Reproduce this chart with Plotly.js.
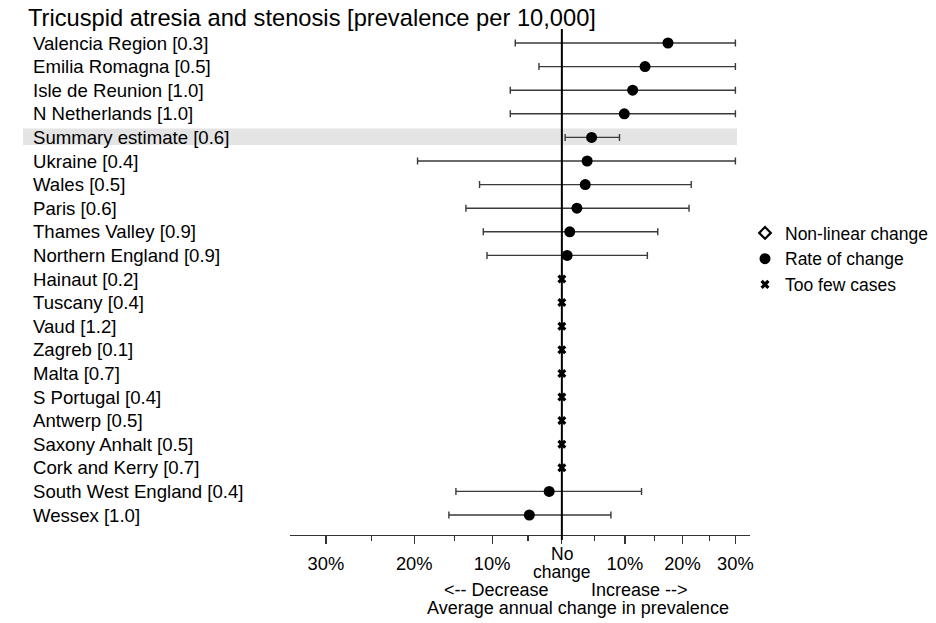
<!DOCTYPE html>
<html>
<head>
<meta charset="utf-8">
<script src="https://cdn.plot.ly/plotly-3.0.1.min.js"></script>
<style>
html,body{margin:0;padding:0;background:#fff;}
#chart{width:936px;height:623px;}
</style>
</head>
<body>
<div id="chart"></div>
<script>
// ---- data ----
const regions = ['Valencia Region','Emilia Romagna','Isle de Reunion','N Netherlands','Summary estimate','Ukraine','Wales','Paris','Thames Valley','Northern England','Hainaut','Tuscany','Vaud','Zagreb','Malta','S Portugal','Antwerp','Saxony Anhalt','Cork and Kerry','South West England','Wessex'];
const prevalence = ['0.3','0.5','1.0','1.0','0.6','0.4','0.5','0.6','0.9','0.9','0.2','0.4','1.2','0.1','0.7','0.4','0.5','0.5','0.7','0.4','1.0'];
const status = ['rate','rate','rate','rate','rate','rate','rate','rate','rate','rate','few','few','few','few','few','few','few','few','few','rate','rate'];
// average annual change, % (point estimate, lower and upper limit as drawn)
const change = [17.4,13.4,11.3,9.9,4.6,3.9,3.6,2.3,1.2,0.8,0,0,0,0,0,0,0,0,0,-1.9,-4.8];
const lower  = [-6.8,-3.4,-7.5,-7.5,0.5,-19.6,-11.7,-13.5,-11.2,-10.7,null,null,null,null,null,null,null,null,null,-14.8,-15.7];
const upper  = [30,30,30,30,9.1,30,21.6,21.2,15.6,13.8,null,null,null,null,null,null,null,null,null,12.8,7.7];
const tickPct = [-30,-20,-10,0,10,20,30];
const tickText = ['30%','20%','10%','','10%','20%','30%'];
const minorPct = [-25,-15,-5,5,15,25];

// ---- build ----
const FONT = 'Liberation Sans, Arial, sans-serif';
const ratio = p => 1 + p/100;
const labels = regions.map((r,i) => r + ' [' + prevalence[i] + ']');

const rateIdx = status.map((s,i)=>s==='rate'?i:-1).filter(i=>i>=0);
const fewIdx = status.map((s,i)=>s==='few'?i:-1).filter(i=>i>=0);

const traceNonLin = {
  type:'scatter', mode:'markers', name:'Non-linear change',
  x:[null], y:[null],
  marker:{symbol:'diamond-open', size:9, color:'#000', line:{width:2.2, color:'#000'}},
  hoverinfo:'skip'
};
const traceRate = {
  type:'scatter', mode:'markers', name:'Rate of change',
  x: rateIdx.map(i=>ratio(change[i])),
  y: rateIdx,
  marker:{symbol:'circle', size:11, color:'#000'},
  error_x:{type:'data', symmetric:false,
    array: rateIdx.map(i=>ratio(upper[i])-ratio(change[i])),
    arrayminus: rateIdx.map(i=>ratio(change[i])-ratio(lower[i])),
    color:'#3a3a3a', thickness:1.4, width:3.5}
};
const traceFew = {
  type:'scatter', mode:'markers', name:'Too few cases',
  x: fewIdx.map(i=>ratio(change[i])),
  y: fewIdx,
  marker:{symbol:'x', size:8, color:'#000', line:{width:0}}
};

const L=290, R=750, T=29, B=535;
const W=936, H=623;
const px2paperX = p => (p-L)/(R-L);
const px2paperY = p => (B-p)/(B-T);

const annotations = labels.map((t,i)=>({
  xref:'paper', yref:'y', x:px2paperX(31), y:i, text:t, showarrow:false,
  xanchor:'left', yanchor:'middle', font:{family:FONT, size:18.6, color:'#000'}
}));
const axAnn = (txt, xpx, ypx) => ({xref:'paper', yref:'paper', x:px2paperX(xpx), y:px2paperY(ypx),
  text:txt, showarrow:false, xanchor:'center', yanchor:'middle', font:{family:FONT, size:18, color:'#000'}});
annotations.push({xref:'x', yref:'paper', x:0, y:px2paperY(553.5), text:'No', showarrow:false,
  xanchor:'center', yanchor:'middle', font:{family:FONT, size:17.5, color:'#000'}});
annotations.push({xref:'x', yref:'paper', x:0, y:px2paperY(571.5), text:'change', showarrow:false,
  xanchor:'center', yanchor:'middle', font:{family:FONT, size:17.5, color:'#000'}});
annotations.push(axAnn('&lt;-- Decrease', 496.5, 589.5));
annotations.push(axAnn('Increase --&gt;', 639, 589.5));
annotations.push(axAnn('Average annual change in prevalence', 578, 607.5));

const summaryRow = regions.indexOf('Summary estimate');
const shapes = [
  {type:'rect', xref:'paper', yref:'y', x0:px2paperX(23), x1:px2paperX(737), y0:summaryRow-0.38, y1:summaryRow+0.32,
   fillcolor:'#e4e4e4', line:{width:0}, layer:'below'},
  {type:'line', xref:'x', yref:'paper', x0:1, x1:1, y0:-0.01, y1:1, line:{color:'#000', width:2}, layer:'above'}
];

const layout = {
  width:W, height:H,
  margin:{l:L, r:W-R, t:T, b:H-B, pad:0, autoexpand:false},
  paper_bgcolor:'#fff', plot_bgcolor:'rgba(0,0,0,0)',
  font:{family:FONT, color:'#000'},
  title:{text:'Tricuspid atresia and stenosis [prevalence per 10,000]', xref:'container', yref:'container',
    x:28/W, xanchor:'left', y:1-18/H, yanchor:'middle', font:{family:FONT, size:23.7, color:'#000'}},
  xaxis:{type:'log', range:[Math.log10(0.663), Math.log10(1.329)],
    tickmode:'array', tickvals:tickPct.map(ratio), ticktext:tickText,
    ticks:'outside', ticklen:8, tickwidth:1.2, tickcolor:'#333', ticklabelstandoff:4,
    minor:{tickmode:'array', tickvals:minorPct.map(ratio), ticks:'outside', ticklen:5, tickwidth:1.2, tickcolor:'#333', showgrid:false},
    showline:true, linecolor:'#333', linewidth:1.3, showgrid:false, zeroline:false,
    tickfont:{family:FONT, size:18.3, color:'#000'}, fixedrange:true, automargin:false},
  yaxis:{range:[20 + (B-515)/23.6, -(43-T)/23.6], showticklabels:false, showgrid:false,
    zeroline:false, showline:false, ticks:'', fixedrange:true, automargin:false},
  showlegend:true,
  legend:{x:px2paperX(745), xanchor:'left', y:px2paperY(215), yanchor:'top',
    font:{family:FONT, size:17.5, color:'#000'}, bgcolor:'rgba(0,0,0,0)', itemclick:false, itemdoubleclick:false},
  annotations:annotations,
  shapes:shapes
};

Plotly.newPlot('chart', [traceNonLin, traceRate, traceFew], layout, {displayModeBar:false, staticPlot:true});
</script>
</body>
</html>
